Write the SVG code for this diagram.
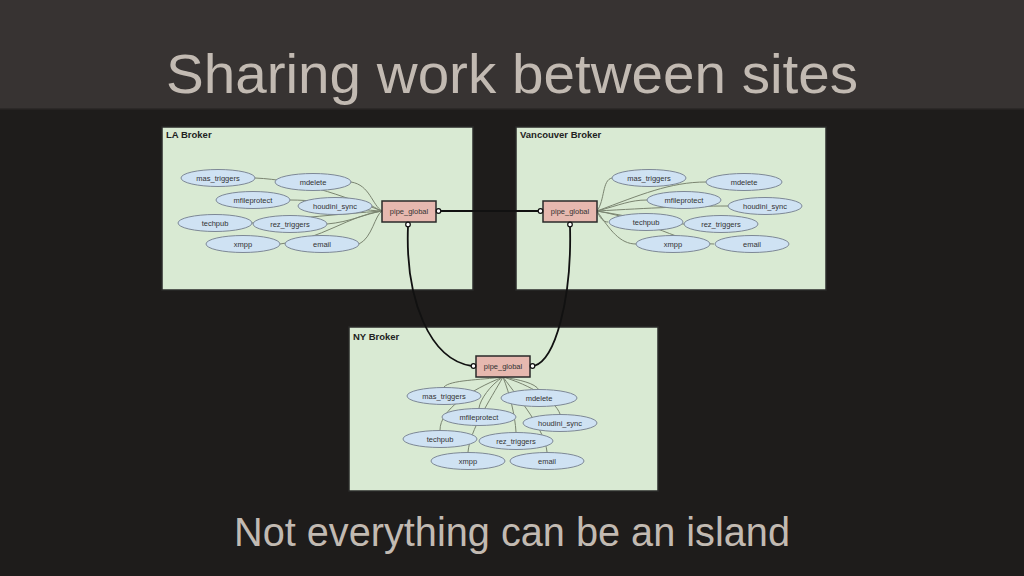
<svg xmlns="http://www.w3.org/2000/svg" width="1024" height="576" viewBox="0 0 1024 576">
<style>
.bg{fill:#1e1c1b}
.band{fill:#373332}
.title{font-family:"Liberation Sans",Arial,sans-serif;fill:#c2bab2}
.box{fill:#d9ead3;stroke:#2a2a2a;stroke-width:1.5}
.boxlbl{font-family:"Liberation Sans",Arial,sans-serif;font-size:9.5px;font-weight:bold;fill:#222}
.ell{fill:#cfe2f3;stroke:#7d8896;stroke-width:1}
.pipe{fill:#e6b8af;stroke:#2a2a2a;stroke-width:1.5}
.lbl{font-family:"Liberation Sans",Arial,sans-serif;font-size:7.5px;fill:#333;text-anchor:middle}
.edge{fill:none;stroke:#7a8470;stroke-width:1}
.link{fill:none;stroke:#111;stroke-width:1.8}
.port{fill:#fff;stroke:#111;stroke-width:1.2}
</style>
<rect class="bg" x="0" y="0" width="1024" height="576"/>
<rect class="band" x="0" y="0" width="1024" height="108"/>
<rect x="0" y="108" width="1024" height="1.5" fill="#2c2928"/>
<text class="title" x="166" y="93" font-size="56" textLength="692" lengthAdjust="spacingAndGlyphs">Sharing work between sites</text>
<text class="title" x="234" y="546" font-size="40" textLength="556" lengthAdjust="spacingAndGlyphs">Not everything can be an island</text>

<g id="la-broker">
<rect class="box" x="162" y="127" width="311" height="163"/>
<text class="boxlbl" x="166" y="138">LA Broker</text>
</g>
<g id="vancouver-broker">
<rect class="box" x="516" y="127" width="310" height="163"/>
<text class="boxlbl" x="520" y="138">Vancouver Broker</text>
</g>
<g id="ny-broker">
<rect class="box" x="349" y="327" width="309" height="164"/>
<text class="boxlbl" x="353" y="340">NY Broker</text>
</g>

<g id="connectors">
<path class="edge" d="M255,178 C300,180 340,195 382,211"/>
<path class="edge" d="M351,182 C370,185 372,205 382,211"/>
<path class="edge" d="M290,200 C330,200 350,210 382,211"/>
<path class="edge" d="M372,206 C376,208 379,210 382,211"/>
<path class="edge" d="M252,223 C300,218 340,214 382,211"/>
<path class="edge" d="M327,224 C350,222 365,214 382,211"/>
<path class="edge" d="M280,244 C320,240 350,215 382,211"/>
<path class="edge" d="M359,244 C372,238 375,215 382,211"/>

<path class="edge" d="M597,211 C605,200 602,180 612,178"/>
<path class="edge" d="M597,211 C640,195 670,182 706,182"/>
<path class="edge" d="M597,211 C620,205 630,200 647,200"/>
<path class="edge" d="M597,211 C650,208 690,206 728,206"/>
<path class="edge" d="M597,211 C600,218 603,222 608,222"/>
<path class="edge" d="M597,211 C640,218 660,224 684,224"/>
<path class="edge" d="M597,211 C610,230 620,244 636,244"/>
<path class="edge" d="M597,211 C650,220 680,244 714,244"/>

<path class="edge" d="M503,377 C480,380 450,380 444,387"/>
<path class="edge" d="M503,377 C520,380 535,383 539,390"/>
<path class="edge" d="M503,377 C490,385 480,400 479,408"/>
<path class="edge" d="M503,377 C530,385 555,400 560,414"/>
<path class="edge" d="M503,377 C470,390 440,410 440,430"/>
<path class="edge" d="M503,377 C510,395 515,415 516,432"/>
<path class="edge" d="M503,377 C490,400 470,430 468,452"/>
<path class="edge" d="M503,377 C520,400 545,430 547,452"/>

<path class="link" d="M440,211 L539,211"/>
<path class="link" d="M408,226 C405,300 430,360 472,366"/>
<path class="link" d="M570,226 C572,300 555,360 534,366"/>
</g>

<g id="la-nodes">
<g id="la-mas_triggers"><ellipse class="ell" cx="218" cy="178" rx="37" ry="8.5"/><text class="lbl" x="218" y="181">mas_triggers</text></g>
<g id="la-mdelete"><ellipse class="ell" cx="313" cy="182" rx="38" ry="8.5"/><text class="lbl" x="313" y="185">mdelete</text></g>
<g id="la-mfileprotect"><ellipse class="ell" cx="253" cy="200" rx="37" ry="8.5"/><text class="lbl" x="253" y="203">mfileprotect</text></g>
<g id="la-houdini_sync"><ellipse class="ell" cx="335" cy="206" rx="37" ry="8.5"/><text class="lbl" x="335" y="209">houdini_sync</text></g>
<g id="la-techpub"><ellipse class="ell" cx="215" cy="223" rx="37" ry="8.5"/><text class="lbl" x="215" y="226">techpub</text></g>
<g id="la-rez_triggers"><ellipse class="ell" cx="290" cy="224" rx="37" ry="8.5"/><text class="lbl" x="290" y="227">rez_triggers</text></g>
<g id="la-xmpp"><ellipse class="ell" cx="243" cy="244" rx="37" ry="8.5"/><text class="lbl" x="243" y="247">xmpp</text></g>
<g id="la-email"><ellipse class="ell" cx="322" cy="244" rx="37" ry="8.5"/><text class="lbl" x="322" y="247">email</text></g>
<g id="la-pipe_global"><rect class="pipe" x="382" y="201" width="54" height="21"/><text class="lbl" x="409" y="214">pipe_global</text></g>
</g>

<g id="vancouver-nodes">
<g id="van-mas_triggers"><ellipse class="ell" cx="649" cy="178" rx="37" ry="8.5"/><text class="lbl" x="649" y="181">mas_triggers</text></g>
<g id="van-mdelete"><ellipse class="ell" cx="744" cy="182" rx="38" ry="8.5"/><text class="lbl" x="744" y="185">mdelete</text></g>
<g id="van-mfileprotect"><ellipse class="ell" cx="684" cy="200" rx="37" ry="8.5"/><text class="lbl" x="684" y="203">mfileprotect</text></g>
<g id="van-houdini_sync"><ellipse class="ell" cx="765" cy="206" rx="37" ry="8.5"/><text class="lbl" x="765" y="209">houdini_sync</text></g>
<g id="van-techpub"><ellipse class="ell" cx="646" cy="222" rx="37" ry="8.5"/><text class="lbl" x="646" y="225">techpub</text></g>
<g id="van-rez_triggers"><ellipse class="ell" cx="721" cy="224" rx="37" ry="8.5"/><text class="lbl" x="721" y="227">rez_triggers</text></g>
<g id="van-xmpp"><ellipse class="ell" cx="673" cy="244" rx="37" ry="8.5"/><text class="lbl" x="673" y="247">xmpp</text></g>
<g id="van-email"><ellipse class="ell" cx="752" cy="244" rx="37" ry="8.5"/><text class="lbl" x="752" y="247">email</text></g>
<g id="van-pipe_global"><rect class="pipe" x="543" y="201" width="54" height="21"/><text class="lbl" x="570" y="214">pipe_global</text></g>
</g>

<g id="ny-nodes">
<g id="ny-mas_triggers"><ellipse class="ell" cx="444" cy="396" rx="37" ry="8.5"/><text class="lbl" x="444" y="399">mas_triggers</text></g>
<g id="ny-mdelete"><ellipse class="ell" cx="539" cy="398" rx="38" ry="8.5"/><text class="lbl" x="539" y="401">mdelete</text></g>
<g id="ny-mfileprotect"><ellipse class="ell" cx="479" cy="417" rx="37" ry="8.5"/><text class="lbl" x="479" y="420">mfileprotect</text></g>
<g id="ny-houdini_sync"><ellipse class="ell" cx="560" cy="423" rx="37" ry="8.5"/><text class="lbl" x="560" y="426">houdini_sync</text></g>
<g id="ny-techpub"><ellipse class="ell" cx="440" cy="439" rx="37" ry="8.5"/><text class="lbl" x="440" y="442">techpub</text></g>
<g id="ny-rez_triggers"><ellipse class="ell" cx="516" cy="441" rx="37" ry="8.5"/><text class="lbl" x="516" y="444">rez_triggers</text></g>
<g id="ny-xmpp"><ellipse class="ell" cx="468" cy="461" rx="37" ry="8.5"/><text class="lbl" x="468" y="464">xmpp</text></g>
<g id="ny-email"><ellipse class="ell" cx="547" cy="461" rx="37" ry="8.5"/><text class="lbl" x="547" y="464">email</text></g>
<g id="ny-pipe_global"><rect class="pipe" x="476" y="356" width="54" height="21"/><text class="lbl" x="503" y="369">pipe_global</text></g>
</g>

<g id="ports">
<circle class="port" cx="438.5" cy="211" r="2.3"/>
<circle class="port" cx="408" cy="224.5" r="2.3"/>
<circle class="port" cx="540.5" cy="211" r="2.3"/>
<circle class="port" cx="570" cy="224.5" r="2.3"/>
<circle class="port" cx="473.5" cy="366" r="2.3"/>
<circle class="port" cx="532.5" cy="366" r="2.3"/>
</g>
</svg>
